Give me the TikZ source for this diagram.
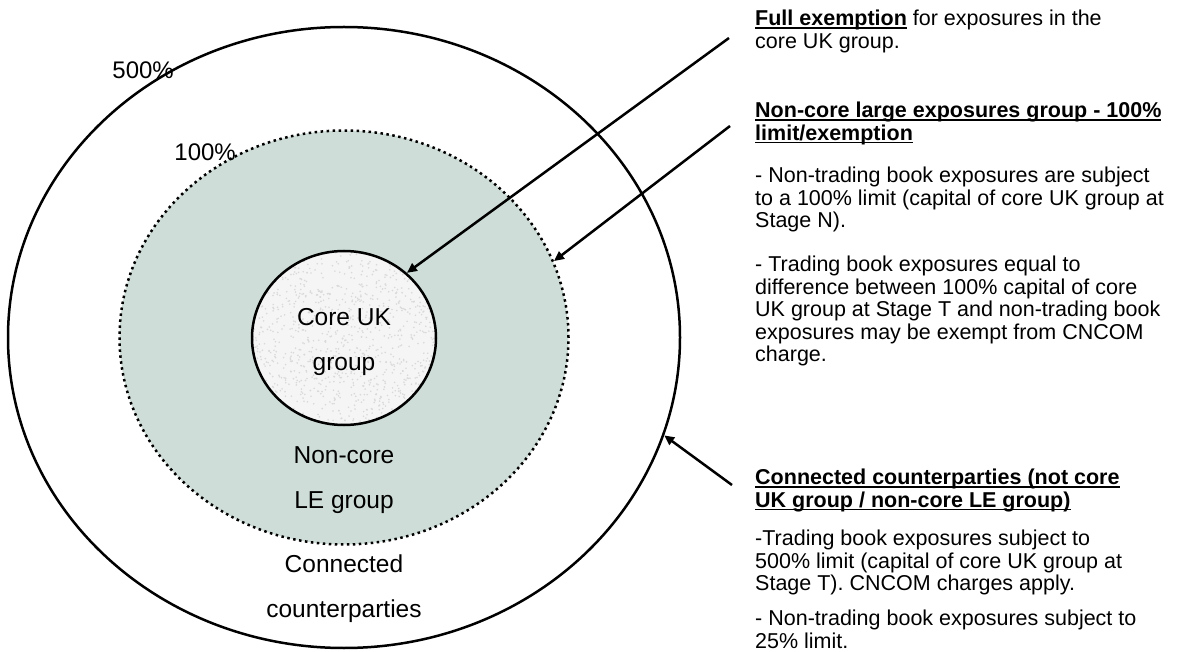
\documentclass[tikz,border=0pt]{standalone}
\usepackage{fontspec}
\setmainfont{Liberation Sans}
\newcommand\ulbf[1]{\leavevmode\setbox0\hbox{\textbf{#1}}\rlap{\rule[-3pt]{\wd0}{1.4pt}}\box0\relax}
\usetikzlibrary{shapes.geometric,arrows.meta,positioning}
\definecolor{legreen}{RGB}{206,221,216}
\tikzset{
  ring/.style={ellipse,draw,line width=2.5pt,inner sep=0pt},
  lbl/.style={font=\fontsize{24.5}{45}\selectfont,align=center,inner sep=0pt},
  pct/.style={font=\fontsize{24}{24}\selectfont,anchor=east,inner sep=0pt},
  note/.style={font=\fontsize{21.5}{22.5}\selectfont,align=left,anchor=north west,inner sep=0pt},
  pointer/.style={line width=2.5pt,-{Triangle[length=10pt,width=9pt]}}
}
\begin{document}
\begin{tikzpicture}[x=1pt,y=-1pt]
%\draw[help lines] (0,0) grid[xstep=50,ystep=50] (1179,652);
\useasboundingbox (0,0) rectangle (1179,652);
\pgfmathsetseed{11}
\node[ring,minimum width=672pt,minimum height=621pt] (outer) at (344,337.5) {};
\node[ring,fill=legreen,dash pattern=on 2.5pt off 3.5pt,minimum width=449pt,minimum height=414pt] (lering) at (344,337.5) {};
\node[ring,fill=gray!8,minimum width=184pt,minimum height=174pt,
  path picture={\foreach \i in {1,...,1100}
    \fill[gray!30] (path picture bounding box.center) ++(rand*92,rand*87) circle (0.9pt);}] (core) at (344,338) {};
\node[lbl] (coretxt) at (344,342) {Core UK\\group};
\node[lbl] (letxt) at (344,480) {Non-core\\LE group};
\node[lbl] (cctxt) at (344,589) {Connected\\counterparties};
\node[pct] (p500) at (174,70) {500\%};
\node[pct] (p100) at (236,152) {100\%};
% notes on the right
\node[note] (fullx) at (755,10) {\ulbf{Full exemption} for exposures in the\\core UK group.};
\node[note] (lehead) at (755,102) {\ulbf{Non-core large exposures group - 100\%}\\\ulbf{limit/exemption}};
\node[note] (lentb) at (755,167) {- Non-trading book exposures are subject\\to a 100\% limit (capital of core UK group at\\Stage N).};
\node[note] (letb) at (755,256) {- Trading book exposures equal to\\difference between 100\% capital of core\\UK group at Stage T and non-trading book\\exposures may be exempt from CNCOM\\charge.};
\node[note] (cchead) at (755,469) {\ulbf{Connected counterparties (not core}\\\ulbf{UK group / non-core LE group)}};
\node[note] (cctb) at (755,530) {-Trading book exposures subject to\\500\% limit (capital of core UK group at\\Stage T). CNCOM charges apply.};
\node[note] (ccntb) at (755,610) {- Non-trading book exposures subject to\\25\% limit.};
\coordinate (fromfull) at (729,38);
\coordinate (fromle) at (730,126);
\coordinate (fromcc) at (732,485);
\draw[pointer] (fromfull) -- (core.46);
\draw[pointer] (fromle) -- (lering.20.4);
\draw[pointer] (fromcc) -- (outer.-17.3);
\end{tikzpicture}
\end{document}
